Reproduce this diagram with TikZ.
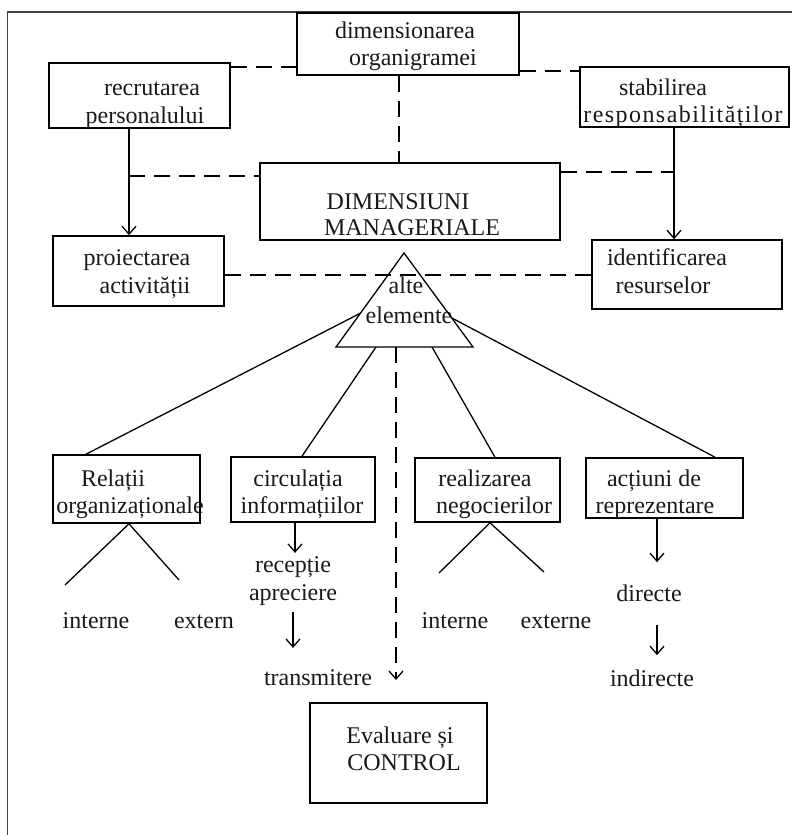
\documentclass[tikz,border=0pt]{standalone}
\usepackage{fontspec}
\setmainfont{Liberation Serif}
\usetikzlibrary{arrows.meta,calc}
\begin{document}
\begin{tikzpicture}[x=1pt,y=-1pt,
  box/.style={draw=black, line width=1.6pt, rectangle, inner sep=0pt},
  lbl/.style={font=\fontsize{24}{27}\selectfont, inner sep=0pt, anchor=base, text=black!90},
  conn/.style={line width=1.3pt, draw=black},
  arr/.style={conn, -{Straight Barb[length=8pt,width=14pt]}},
  dsh/.style={conn, dash pattern=on 16pt off 9pt},
]
\useasboundingbox (0,0) rectangle (792,835);
% frame
\draw[line width=1.8pt, draw=black!75] (7.5,835) -- (7.5,12) -- (792,12);

% boxes
\node[box, minimum width=222pt, minimum height=62pt] (top)   at (408,44)    {};
\node[box, minimum width=181pt, minimum height=65pt] (recr)  at (139.5,95.5){};
\node[box, minimum width=209pt, minimum height=60pt] (stab)  at (684.5,97)  {};
\node[box, minimum width=300pt, minimum height=77pt] (dim)   at (410,201.5) {};
\node[box, minimum width=171pt, minimum height=70pt] (proi)  at (138.5,271) {};
\node[box, minimum width=190pt, minimum height=69pt] (ident) at (687,274.5) {};
\node[box, minimum width=147pt, minimum height=68pt] (rel)   at (126.5,489) {};
\node[box, minimum width=144pt, minimum height=65pt] (circ)  at (303,489.5) {};
\node[box, minimum width=145pt, minimum height=64pt] (real)  at (487.5,490) {};
\node[box, minimum width=157pt, minimum height=60pt] (act)   at (664.5,488) {};
\node[box, minimum width=177pt, minimum height=100pt] (eval) at (398.5,753) {};

% texts
\node[lbl] (top1) at (405,38) {dimensionarea};
\node[lbl] (top2) at (413,65) {organigramei};
\node[lbl] (recr1) at (152,95) {recrutarea};
\node[lbl] (recr2) at (145,123) {personalului};
\node[lbl] (stab1) at (663,95) {stabilirea};
\node[lbl] (stab2) at (683,122) {\addfontfeature{LetterSpace=6}responsabilităților};
\node[lbl] (dim1) at (398,209) {DIMENSIUNI};
\node[lbl] (dim2) at (412,235) {MANAGERIALE};
\node[lbl] (proi1) at (137,265) {proiectarea};
\node[lbl] (proi2) at (145,293) {activității};
\node[lbl] (ident1) at (667,265) {identificarea};
\node[lbl] (ident2) at (663,293) {resurselor};
\node[lbl] (alte1) at (406,293) {alte};
\node[lbl] (alte2) at (409,323) {elemente};
\node[lbl] (rel1) at (113,486) {Relații};
\node[lbl] (rel2) at (130,513) {organizaționale};
\node[lbl] (circ1) at (298,486) {circulația};
\node[lbl] (circ2) at (302,513) {informațiilor};
\node[lbl] (real1) at (485,486) {realizarea};
\node[lbl] (real2) at (494,513) {negocierilor};
\node[lbl] (act1) at (654,486) {acțiuni de};
\node[lbl] (act2) at (655,513) {reprezentare};
\node[lbl] (int1) at (96,628) {interne};
\node[lbl] (ext1) at (204,628) {extern};
\node[lbl] (rec) at (293,572) {recepție};
\node[lbl] (apr) at (293,600) {apreciere};
\node[lbl] (tra) at (318,685) {transmitere};
\node[lbl] (int2) at (455,628) {interne};
\node[lbl] (ext2) at (556,628) {externe};
\node[lbl] (dir) at (649,601) {directe};
\node[lbl] (ind) at (652,686) {indirecte};
\node[lbl] (ev1) at (400,743) {Evaluare și};
\node[lbl] (ev2) at (404,770) {CONTROL};

% helper coordinates
\coordinate (ax) at (129,0);
\coordinate (bx) at (674,0);
\coordinate (v1) at (399,0);
\coordinate (cx) at (295,0);
\coordinate (cx2) at (293,0);
\coordinate (ex) at (657,0);
\coordinate (h1) at (0,67);
\coordinate (h2) at (0,71);
\coordinate (h3) at (0,176);
\coordinate (h4) at (0,172);
\coordinate (h5) at (0,275);

% solid arrows top
\draw[arr] (recr.south -| ax) -- (proi.north -| ax);
\draw[arr] (stab.south -| bx) -- (ident.north -| bx);

% dashed links
\draw[dsh] (recr.east |- h1) -- (top.west |- h1);
\draw[dsh] (top.east |- h2) -- (stab.west |- h2);
\draw[dsh] (top.south -| v1) -- (dim.north -| v1);
\draw[dsh] (ax |- h3) -- (dim.west |- h3);
\draw[dsh] (dim.east |- h4) -- (bx |- h4);
\draw[dsh] (proi.east |- h5) -- (ident.west |- h5);

% triangle
\coordinate (ta) at (404,253);
\coordinate (tl) at (336,347);
\coordinate (tr) at (473,347);
\draw[conn, line join=miter] (ta) -- (tl) -- (tr) -- cycle;
\coordinate (tL) at ($(ta)!0.64!(tl)$);
\coordinate (tR) at ($(ta)!0.69!(tr)$);
\coordinate (tb1) at (376,347);
\coordinate (tb2) at (432,347);
\coordinate (tb3) at (396,347);
\coordinate (dend) at (396,680);

\draw[conn] (tL) -- ([xshift=-40.5pt]rel.north);
\draw[conn] (tb1) -- ([xshift=-1pt]circ.north);
\draw[conn] (tb2) -- ([xshift=7.5pt]real.north);
\draw[conn] (tR) -- ([xshift=50.5pt]act.north);
\draw[dsh, arr] (tb3) -- (dend);

% branches
\coordinate (r1) at (65,585);
\coordinate (r2) at (179,580);
\coordinate (n1) at (439,573);
\coordinate (n2) at (544,572);
\draw[conn] (r1) -- ([xshift=2.5pt]rel.south) -- (r2);
\draw[conn] (n1) -- ([xshift=2.5pt]real.south) -- (n2);

% small arrows
\draw[arr, shorten >=3pt] (circ.south -| cx) -- (rec.north -| cx);
\draw[arr, shorten <=7pt, shorten >=21pt] (apr.south -| cx2) -- (tra.north -| cx2);
\draw[arr, shorten >=22pt] (act.south -| ex) -- (dir.north -| ex);
\draw[arr, shorten <=24pt, shorten >=14pt] (dir.south -| ex) -- (ind.north -| ex);
\end{tikzpicture}
\end{document}
